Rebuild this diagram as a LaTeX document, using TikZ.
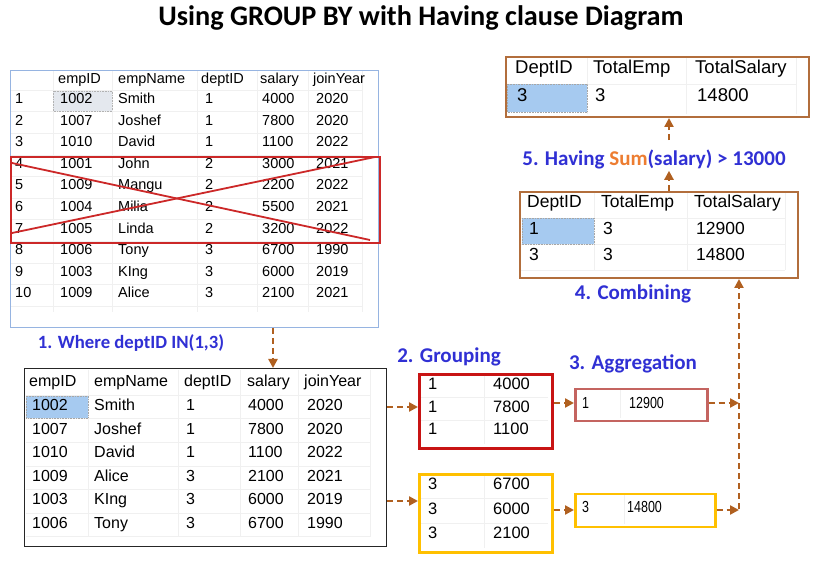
\documentclass[tikz,border=0pt]{standalone}
\usepackage{fontspec}
\setmainfont{Liberation Sans}
\newfontfamily\calib{Carlito}
\newfontfamily\narrowfont[FakeStretch=0.78]{Liberation Sans}
\usetikzlibrary{arrows.meta,calc}
\definecolor{lblue}{RGB}{48,48,212}
\definecolor{sumor}{RGB}{237,125,49}
\definecolor{arrowc}{RGB}{176,96,32}
\definecolor{selblue}{RGB}{166,202,240}
\definecolor{selgray}{RGB}{228,232,238}
\definecolor{xred}{RGB}{204,40,40}
\definecolor{gred}{RGB}{200,20,20}
\definecolor{gyel}{RGB}{255,192,0}
\definecolor{aggred}{RGB}{196,100,96}
\definecolor{brownbox}{RGB}{178,110,60}
\definecolor{tblue}{RGB}{150,180,225}
\definecolor{gridc}{RGB}{240,240,240}
\tikzset{
  box/.style={draw, inner sep=0pt, anchor=north west},
  cell/.style={anchor=west, inner sep=0pt, text height=0.72em, text depth=0pt},
  lab/.style={font=\calib\bfseries\fontsize{21}{21}\selectfont, text=lblue, inner sep=0pt},
  flow/.style={draw=arrowc, line width=2.6pt, dash pattern=on 6pt off 4pt, -{Triangle[length=9pt,width=9pt]}},
  sel/.style={fill=selblue, draw=gray!70, densely dotted, line width=0.6pt},
}
\begin{document}
\begin{tikzpicture}[x=1pt,y=-1pt]
\useasboundingbox (0,0) rectangle (831,569);
\fill[white] (0,0) rectangle (831,569);

% title
\node[font=\calib\bfseries\fontsize{28.3}{28.3}\selectfont, inner sep=0pt] (title) at (421,18) {Using GROUP BY with Having clause Diagram};

% ---------- top-left source table ----------
\node[box, draw=tblue, line width=1pt, minimum width=368pt, minimum height=257pt] (t1) at (10,70) {};
\foreach \x in {53,112,197,257,308,362} \draw[gridc, line width=0.6pt] (\x,71) -- (\x,312);
\foreach \k in {0,...,10} \draw[gridc, line width=0.6pt] (11,{90.2+21.6*\k}) -- (362,{90.2+21.6*\k});
\draw[fill=selgray, draw=gray!60, densely dotted, line width=0.6pt] (53,91) rectangle (112,111);
\begin{scope}[every node/.style={cell, font=\fontsize{14.5}{14.5}\selectfont}]
\node (t1h1) at (58,80) {empID};
\node (t1h2) at (118,80) {empName};
\node (t1h3) at (201,80) {deptID};
\node (t1h4) at (260,80) {salary};
\node (t1h5) at (313,80) {joinYear};
\foreach \n/\id/\nm/\d/\s/\yr [count=\i from 0] in {
  1/1002/Smith/1/4000/2020, 2/1007/Joshef/1/7800/2020, 3/1010/David/1/1100/2022,
  4/1001/John/2/3000/2021, 5/1009/Mangu/2/2200/2022, 6/1004/Milia/2/5500/2021,
  7/1005/Linda/2/3200/2022, 8/1006/Tony/3/6700/1990, 9/1003/KIng/3/6000/2019,
  10/1009/Alice/3/2100/2021}{
  \node (t1r\i c0) at (15,{100+21.6*\i}) {\n};
  \node (t1r\i c1) at (60,{100+21.6*\i}) {\id};
  \node (t1r\i c2) at (118,{100+21.6*\i}) {\nm};
  \node (t1r\i c3) at (205,{100+21.6*\i}) {\d};
  \node (t1r\i c4) at (262,{100+21.6*\i}) {\s};
  \node (t1r\i c5) at (316,{100+21.6*\i}) {\yr};
}
\end{scope}
% crossed-out rows
\node[box, draw=xred, line width=2pt, minimum width=369pt, minimum height=86pt] (xbox) at (10,156) {};
\draw[xred, line width=1.8pt] (12,163) -- (370,240);
\draw[xred, line width=1.8pt] (12,233) -- (375,157);

% label 1
\node[lab, font=\calib\bfseries\fontsize{18.7}{18.7}\selectfont] (l1) at (131,343) {1. Where deptID IN(1,3)};

% ---------- filtered table ----------
\node[box, draw=black!85, line width=1.4pt, minimum width=362pt, minimum height=178pt] (bt) at (24,368) {};
\foreach \x in {88,178,240,298,370} \draw[gridc, line width=0.6pt] (\x,370) -- (\x,537);
\foreach \k in {0,...,6} \draw[gridc, line width=0.6pt] (26,{395.2+23.6*\k}) -- (370,{395.2+23.6*\k});
\draw[sel] (26,396) rectangle (88,418);
\begin{scope}[every node/.style={cell, font=\fontsize{16}{16}\selectfont}]
\node (bth1) at (29,383) {empID};
\node (bth2) at (94,383) {empName};
\node (bth3) at (184,383) {deptID};
\node (bth4) at (247,383) {salary};
\node (bth5) at (304,383) {joinYear};
\foreach \id/\nm/\d/\s/\yr [count=\i from 0] in {
  1002/Smith/1/4000/2020, 1007/Joshef/1/7800/2020, 1010/David/1/1100/2022,
  1009/Alice/3/2100/2021, 1003/KIng/3/6000/2019, 1006/Tony/3/6700/1990}{
  \node (btr\i c1) at (32,{407+23.6*\i}) {\id};
  \node (btr\i c2) at (94,{407+23.6*\i}) {\nm};
  \node (btr\i c3) at (186,{407+23.6*\i}) {\d};
  \node (btr\i c4) at (248,{407+23.6*\i}) {\s};
  \node (btr\i c5) at (307,{407+23.6*\i}) {\yr};
}
\end{scope}

% ---------- groups ----------
\node[lab] (l2) at (449,357) {2. Grouping};
\node[box, draw=gred, line width=3pt, minimum width=133pt, minimum height=74pt] (g1) at (418,373) {};
\node[box, draw=gyel, line width=3pt, minimum width=133pt, minimum height=78pt] (g2) at (418,473) {};
\foreach \k in {1,2} \draw[gridc, line width=0.6pt] (421,{374+23*\k}) -- (548,{374+23*\k});
\foreach \k in {1,2} \draw[gridc, line width=0.6pt] (421,{474+24.5*\k}) -- (548,{474+24.5*\k});
\draw[gridc, line width=0.6pt] (484,376) -- (484,444);
\draw[gridc, line width=0.6pt] (484,476) -- (484,548);
\begin{scope}[every node/.style={cell, font=\fontsize{16.5}{16.5}\selectfont}]
\foreach \v [count=\i from 0] in {4000,7800,1100}{
  \node (g1k\i) at (428,{386+22.5*\i}) {1};
  \node (g1v\i) at (493,{386+22.5*\i}) {\v};
}
\foreach \v [count=\i from 0] in {6700,6000,2100}{
  \node (g2k\i) at (428,{486+24.5*\i}) {3};
  \node (g2v\i) at (493,{486+24.5*\i}) {\v};
}
\end{scope}

% ---------- aggregation ----------
\node[lab] (l3) at (633,364) {3. Aggregation};
\node[box, draw=aggred, line width=2.5pt, minimum width=132pt, minimum height=32pt] (a1) at (574,388) {};
\node[box, draw=gyel, line width=2.5pt, minimum width=140pt, minimum height=33pt] (a2) at (574,493) {};
\draw[gridc, line width=0.6pt] (620,390) -- (620,418);
\draw[gridc, line width=0.6pt] (624,495) -- (624,524);
\begin{scope}[every node/.style={cell, font=\narrowfont\fontsize{16}{16}\selectfont}]
\node (a1k) at (582,405) {1};
\node (a1v) at (629,405) {12900};
\node (a2k) at (582,509) {3};
\node (a2v) at (627,509) {14800};
\end{scope}

% ---------- combining ----------
\node[lab] (l4) at (633,294) {4. Combining};
\node[box, draw=brownbox, line width=2pt, minimum width=278pt, minimum height=86pt] (cb) at (519,191) {};
\foreach \x in {594,687,785} \draw[gridc, line width=0.6pt] (\x,193) -- (\x,270);
\foreach \y in {218,244,270} \draw[gridc, line width=0.6pt] (521,\y) -- (785,\y);
\draw[sel] (522,218) rectangle (594,244);
\begin{scope}[every node/.style={cell, font=\fontsize{17.5}{17.5}\selectfont}]
\node (cbh1) at (527,204) {DeptID};
\node (cbh2) at (601,204) {TotalEmp};
\node (cbh3) at (694,204) {TotalSalary};
\node (cb11) at (529,231) {1};
\node (cb12) at (603,231) {3};
\node (cb13) at (696,231) {12900};
\node (cb21) at (529,257) {3};
\node (cb22) at (603,257) {3};
\node (cb23) at (696,257) {14800};
\end{scope}

% ---------- having ----------
\node[lab] (l5) at (654,159) {5. Having \textcolor{sumor}{Sum}(salary) > 13000};

% ---------- result ----------
\node[box, draw=brownbox, line width=2pt, minimum width=303pt, minimum height=60pt] (tr) at (505,56) {};
\foreach \x in {587,686,796} \draw[gridc, line width=0.6pt] (\x,58) -- (\x,114);
\draw[gridc, line width=0.6pt] (507,84) -- (796,84);
\draw[sel] (507,84) rectangle (587,112);
\begin{scope}[every node/.style={cell, font=\fontsize{18.5}{18.5}\selectfont}]
\node (trh1) at (515,70) {DeptID};
\node (trh2) at (593,70) {TotalEmp};
\node (trh3) at (695,70) {TotalSalary};
\node (tr1) at (517,98) {3};
\node (tr2) at (595,98) {3};
\node (tr3) at (697,98) {14800};
\end{scope}

% ---------- connectors ----------
\coordinate (c1) at (273,330);
\coordinate (p1) at (400,407);
\coordinate (p2) at (400,501);
\coordinate (p3) at (560,403);
\coordinate (p4) at (560,510);
\coordinate (jx) at (739,450);
\coordinate (c5) at (669,150);
\draw[flow] (t1.south -| c1) -- (bt.north -| c1);
\draw[flow] (bt.east |- p1) -- (g1.west |- p1);
\draw[flow] (bt.east |- p2) -- (g2.west |- p2);
\draw[flow] (g1.east |- p3) -- (a1.west |- p3);
\draw[flow] (g2.east |- p4) -- (a2.west |- p4);
\draw[flow] (a1.east |- p3) -- (jx |- p3);
\draw[flow] (a2.east |- p4) -- (jx |- p4);
\draw[flow] ([yshift=1.3pt]jx |- p4) -- (cb.south -| jx);
\draw[flow] (cb.north -| c5) -- ([yshift=-2pt]l5.south -| c5);
\draw[flow] ([yshift=9pt]l5.north -| c5) -- (tr.south -| c5);
\end{tikzpicture}
\end{document}
